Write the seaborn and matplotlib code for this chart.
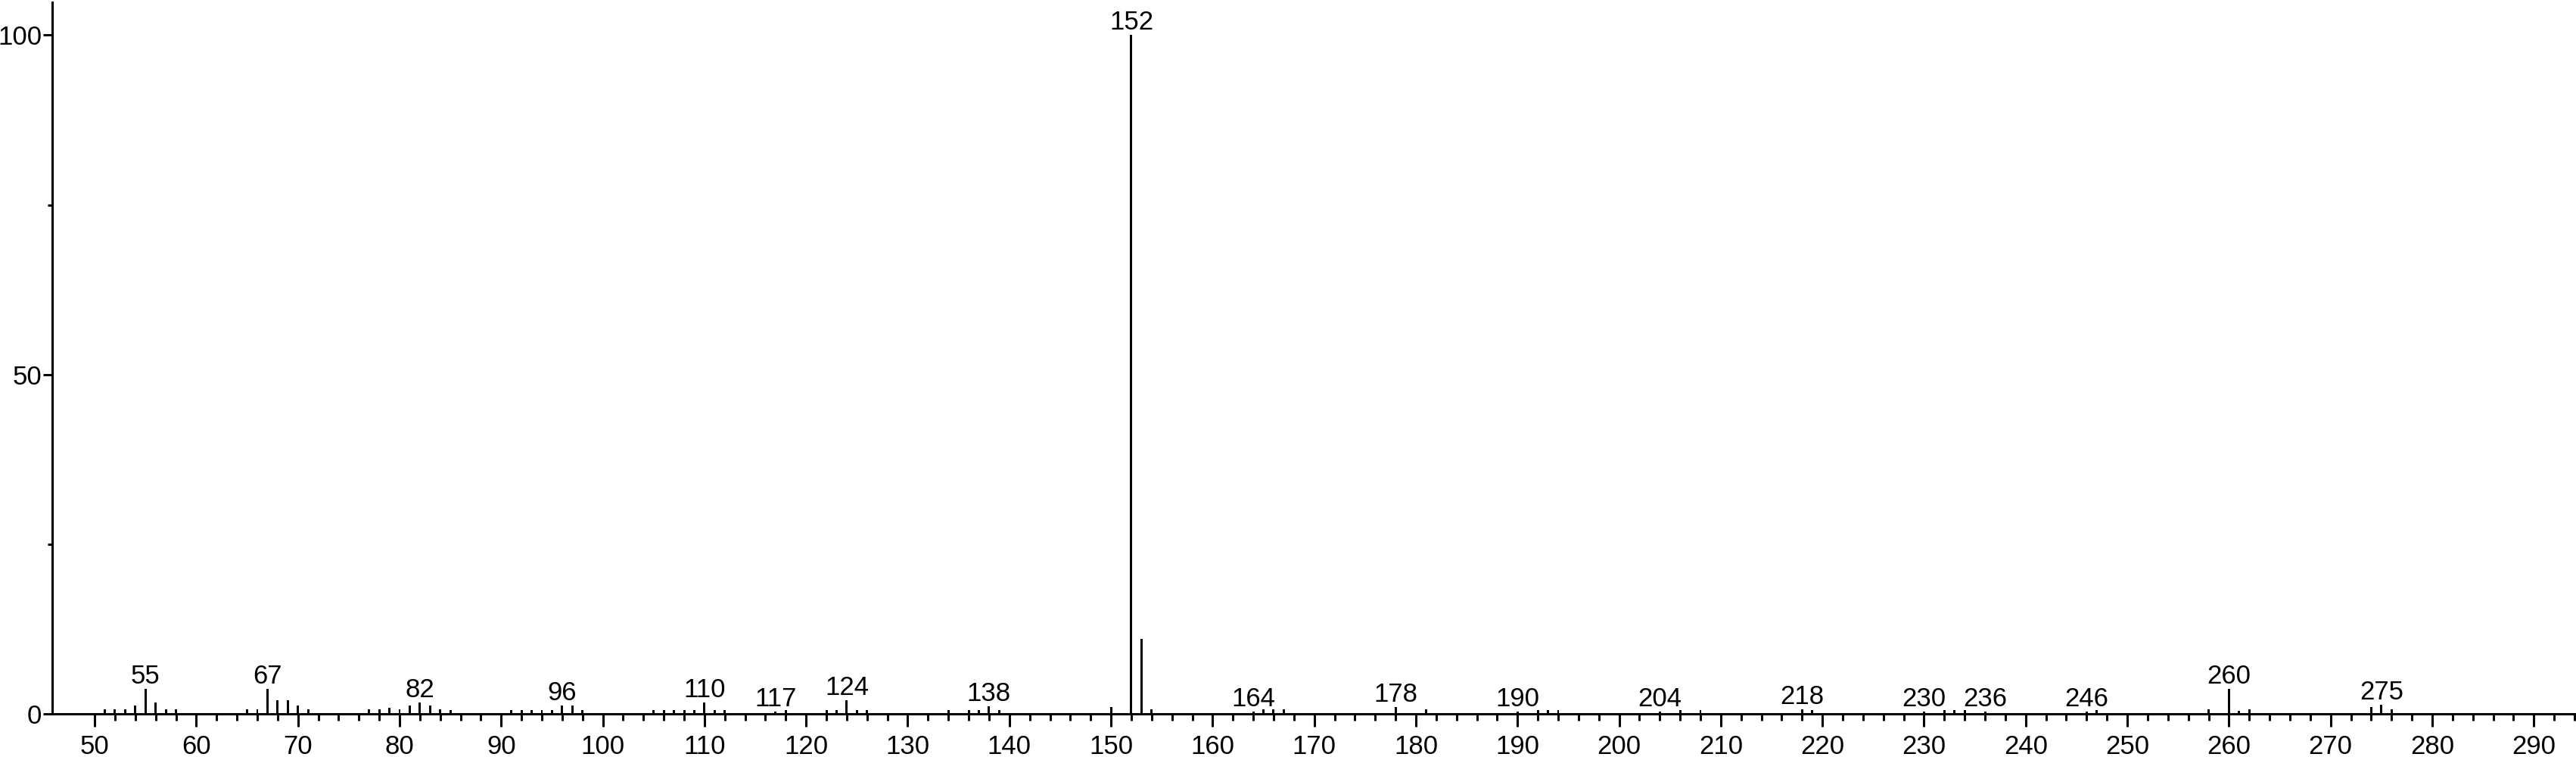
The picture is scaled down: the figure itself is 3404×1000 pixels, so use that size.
import numpy as np
import pandas as pd
import matplotlib
matplotlib.use('Agg')
import matplotlib.pyplot as plt
import seaborn as sns

# Spectre de masse : m/z et intensité relative (%)
mz = [51, 52, 53, 54, 55, 56, 57, 58,
      65, 66, 67, 68, 69, 70, 71,
      77, 78, 79, 80, 81, 82, 83, 84, 85,
      91, 92, 93, 94, 95, 96, 97, 98,
      105, 106, 107, 108, 109, 110, 111, 112,
      117, 118, 122, 123, 124, 125, 126,
      134, 136, 137, 138, 139,
      150, 152, 153, 154,
      164, 165, 166, 167, 178, 181,
      190, 192, 193, 194, 204, 206, 208,
      218, 219, 230, 232, 233, 234, 236,
      246, 247, 258, 260, 261, 262,
      274, 275, 276]
intensity = [0.7, 0.7, 0.7, 1.3, 3.7, 1.7, 0.7, 0.7,
             0.7, 0.7, 3.7, 2.0, 2.0, 1.3, 0.7,
             0.7, 0.7, 0.9, 0.7, 1.3, 1.7, 1.3, 0.7, 0.6,
             0.6, 0.6, 0.6, 0.6, 0.6, 1.3, 1.3, 0.6,
             0.6, 0.6, 0.6, 0.6, 0.6, 1.7, 0.6, 0.6,
             0.4, 0.6, 0.6, 0.6, 2.0, 0.6, 0.6,
             0.6, 0.6, 0.6, 1.1, 0.6,
             1.0, 100.0, 11.1, 0.7,
             0.4, 0.7, 0.7, 0.7, 1.0, 0.7,
             0.4, 0.6, 0.6, 0.6, 0.4, 0.6, 0.6,
             0.7, 0.6, 0.4, 0.6, 0.6, 0.6, 0.4,
             0.4, 0.6, 0.7, 3.7, 0.5, 0.7,
             1.0, 1.4, 0.7]

# Pics annotés
peak_labels = [55, 67, 82, 96, 110, 117, 124, 138, 152, 164,
               178, 190, 204, 218, 230, 236, 246, 260, 275]

df = pd.DataFrame({'mz': mz, 'intensity': intensity})

sns.set_theme(style='ticks', rc={'axes.edgecolor': 'black',
                                 'xtick.color': 'black',
                                 'ytick.color': 'black',
                                 'text.color': 'black'})
plt.rcParams['font.family'] = ['Liberation Sans', 'DejaVu Sans']

fig = plt.figure(figsize=(34.04, 10), dpi=100)
ax = fig.add_axes([0.0203, 0.0567, 0.9797, 0.94])

# Pics en barres fines (une par m/z entier)
sns.histplot(data=df, x='mz', weights='intensity', discrete=True,
             shrink=0.22, color='black', alpha=1, linewidth=0, ax=ax)

lookup = dict(zip(mz, intensity))
for m in peak_labels:
    ax.annotate(str(m), (m, lookup[m]), xytext=(0, 5),
                textcoords='offset points', ha='center', va='baseline',
                fontsize=25)

ax.set_xlim(45.83, 294.15)
ax.set_ylim(0, 104.8)
ax.set_xticks(np.arange(50, 291, 10))
ax.set_xticks(np.arange(50, 295, 2), minor=True)
ax.set_yticks([0, 50, 100])
ax.set_yticks([25, 75], minor=True)

ax.tick_params(axis='x', which='major', length=12, width=2.2, pad=7, labelsize=25)
ax.tick_params(axis='x', which='minor', length=6.5, width=2.2)
ax.tick_params(axis='y', which='major', length=8.6, width=2.2, pad=1.5, labelsize=25)
ax.tick_params(axis='y', which='minor', length=4.3, width=2.2)

for side in ['top', 'right']:
    ax.spines[side].set_visible(False)
for side in ['left', 'bottom']:
    ax.spines[side].set_linewidth(2.2)

ax.set_xlabel('')
ax.set_ylabel('')

fig.savefig('out.png', dpi=100)
